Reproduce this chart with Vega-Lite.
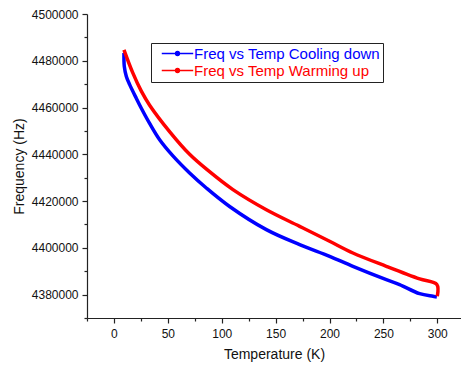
{
  "$schema": "https://vega.github.io/schema/vega-lite/v6.json",
  "width": 374,
  "height": 304,
  "autosize": "none",
  "padding": {"left": 87, "top": 14, "right": 0, "bottom": 51},
  "background": "white",
  "config": {
    "view": {"stroke": null},
    "font": "Liberation Sans"
  },
  "data": {
    "values": [
      {"series": "Freq vs Temp Cooling down", "i": 1, "T": 299.6, "F": 4379000},
      {"series": "Freq vs Temp Cooling down", "i": 2, "T": 296.0, "F": 4379300},
      {"series": "Freq vs Temp Cooling down", "i": 3, "T": 283.6, "F": 4380400},
      {"series": "Freq vs Temp Cooling down", "i": 4, "T": 265.0, "F": 4384300},
      {"series": "Freq vs Temp Cooling down", "i": 5, "T": 252.7, "F": 4386400},
      {"series": "Freq vs Temp Cooling down", "i": 6, "T": 221.7, "F": 4392100},
      {"series": "Freq vs Temp Cooling down", "i": 7, "T": 200.1, "F": 4396400},
      {"series": "Freq vs Temp Cooling down", "i": 8, "T": 172.3, "F": 4401400},
      {"series": "Freq vs Temp Cooling down", "i": 9, "T": 141.4, "F": 4407800},
      {"series": "Freq vs Temp Cooling down", "i": 10, "T": 107.3, "F": 4417700},
      {"series": "Freq vs Temp Cooling down", "i": 11, "T": 85.7, "F": 4425600},
      {"series": "Freq vs Temp Cooling down", "i": 12, "T": 70.2, "F": 4432000},
      {"series": "Freq vs Temp Cooling down", "i": 13, "T": 54.7, "F": 4439300},
      {"series": "Freq vs Temp Cooling down", "i": 14, "T": 42.4, "F": 4446200},
      {"series": "Freq vs Temp Cooling down", "i": 15, "T": 33.1, "F": 4453200},
      {"series": "Freq vs Temp Cooling down", "i": 16, "T": 25.4, "F": 4459700},
      {"series": "Freq vs Temp Cooling down", "i": 17, "T": 20.8, "F": 4463900},
      {"series": "Freq vs Temp Cooling down", "i": 18, "T": 14.6, "F": 4469800},
      {"series": "Freq vs Temp Cooling down", "i": 19, "T": 11.5, "F": 4473300},
      {"series": "Freq vs Temp Cooling down", "i": 20, "T": 9.6, "F": 4477600},
      {"series": "Freq vs Temp Cooling down", "i": 21, "T": 9.3, "F": 4483300},
      {"series": "Freq vs Temp Warming up", "i": 1, "T": 9.3, "F": 4484700},
      {"series": "Freq vs Temp Warming up", "i": 2, "T": 17.6, "F": 4474700},
      {"series": "Freq vs Temp Warming up", "i": 3, "T": 25.4, "F": 4467000},
      {"series": "Freq vs Temp Warming up", "i": 4, "T": 33.1, "F": 4461000},
      {"series": "Freq vs Temp Warming up", "i": 5, "T": 52.0, "F": 4449500},
      {"series": "Freq vs Temp Warming up", "i": 6, "T": 70.2, "F": 4440000},
      {"series": "Freq vs Temp Warming up", "i": 7, "T": 87.0, "F": 4433200},
      {"series": "Freq vs Temp Warming up", "i": 8, "T": 110.4, "F": 4424900},
      {"series": "Freq vs Temp Warming up", "i": 9, "T": 141.4, "F": 4416300},
      {"series": "Freq vs Temp Warming up", "i": 10, "T": 172.3, "F": 4409200},
      {"series": "Freq vs Temp Warming up", "i": 11, "T": 200.1, "F": 4402800},
      {"series": "Freq vs Temp Warming up", "i": 12, "T": 221.7, "F": 4397800},
      {"series": "Freq vs Temp Warming up", "i": 13, "T": 252.7, "F": 4392100},
      {"series": "Freq vs Temp Warming up", "i": 14, "T": 283.6, "F": 4386700},
      {"series": "Freq vs Temp Warming up", "i": 15, "T": 299.6, "F": 4384300},
      {"series": "Freq vs Temp Warming up", "i": 16, "T": 300.0, "F": 4379300}
    ]
  },
  "mark": {"type": "line", "strokeWidth": 3.5, "strokeJoin": "round", "interpolate": "catmull-rom", "clip": true},
  "encoding": {
    "x": {
      "field": "T",
      "type": "quantitative",
      "scale": {"domain": [-25, 322], "nice": false, "zero": false},
      "axis": {
        "title": "Temperature (K)",
        "values": [-25, 0, 25, 50, 75, 100, 125, 150, 175, 200, 225, 250, 275, 300],
        "labelExpr": "datum.value % 50 === 0 ? datum.label : ''",
        "format": "d",
        "grid": false,
        "domainColor": "#222",
        "domainWidth": 1.2,
        "tickColor": "#222",
        "tickWidth": 1.2,
        "tickSize": {"condition": {"test": "datum.value % 50 === 0", "value": 5}, "value": 3},
        "labelFontSize": 12,
        "labelColor": "#111",
        "labelPadding": 5,
        "labelFlush": false,
        "titleFontSize": 14,
        "titleFontWeight": "normal",
        "titleColor": "#111",
        "titlePadding": 8
      }
    },
    "y": {
      "field": "F",
      "type": "quantitative",
      "scale": {"domain": [4370000, 4500000], "nice": false, "zero": false},
      "axis": {
        "title": "Frequency (Hz)",
        "values": [4370000, 4380000, 4390000, 4400000, 4410000, 4420000, 4430000, 4440000, 4450000, 4460000, 4470000, 4480000, 4490000, 4500000],
        "labelExpr": "datum.value % 20000 === 0 ? datum.label : ''",
        "format": "d",
        "grid": false,
        "domainColor": "#222",
        "domainWidth": 1.2,
        "tickColor": "#222",
        "tickWidth": 1.2,
        "tickSize": {"condition": {"test": "datum.value % 20000 === 0", "value": 5}, "value": 3},
        "labelFontSize": 12,
        "labelColor": "#111",
        "labelPadding": 4,
        "labelFlush": false,
        "titleFontSize": 14,
        "titleFontWeight": "normal",
        "titleColor": "#111",
        "titlePadding": 5
      }
    },
    "color": {
      "field": "series",
      "type": "nominal",
      "scale": {
        "domain": ["Freq vs Temp Cooling down", "Freq vs Temp Warming up"],
        "range": ["#0000ff", "#ff0000"]
      },
      "legend": {
        "title": null,
        "orient": "none",
        "legendX": 64,
        "legendY": 29,
        "direction": "vertical",
        "strokeColor": "#222",
        "fillColor": "white",
        "padding": 3,
        "rowPadding": 1,
        "symbolType": "M-3,0H3M-0.38,0A0.38,0.38 0 1,1 0.38,0A0.38,0.38 0 1,1 -0.38,0Z",
        "symbolSize": 110,
        "symbolOffset": 16,
        "symbolStrokeWidth": 1.3,
        "symbolStrokeColor": "#444",
        "labelFontSize": 15,
        "labelOffset": 9,
        "labelLimit": 300,
        "encode": {
          "symbols": {"update": {"fill": {"signal": "scale('color', datum.value)"}, "stroke": {"value": "#444"}}},
          "labels": {"update": {"fill": {"signal": "scale('color', datum.value)"}}}
        }
      }
    },
    "order": {"field": "i", "type": "quantitative"}
  }
}
